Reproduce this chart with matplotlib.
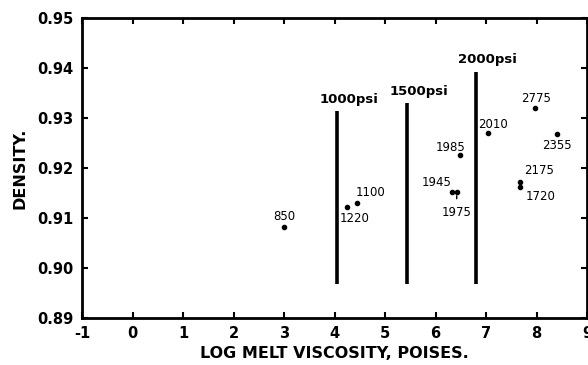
import matplotlib
matplotlib.use("Agg")
import matplotlib.pyplot as plt

plt.rcParams["axes.unicode_minus"] = False

# puntos: log viscosidad, densidad, etiqueta
visc = [3.0, 4.25, 4.45, 6.33, 6.42, 6.49, 7.04, 7.98, 8.40, 7.68, 7.68]
dens = [0.9082, 0.9122, 0.9130, 0.9153, 0.9153, 0.9226, 0.9270, 0.9320, 0.9268, 0.9173, 0.9163]
etiquetas = ["850", "1220", "1100", "1945", "1975", "1985", "2010", "2775", "2355", "2175", "1720"]

# lineas de presion
presion_x = [4.04, 5.43, 6.80]
presion_top = [0.9314, 0.9330, 0.9392]
presion_bottom = 0.8968
presion_txt = ["1000psi", "1500psi", "2000psi"]

# desplazamientos de las etiquetas (pixeles)
offsets = {
    "850": (0, 10), "1220": (7, -12), "1100": (13, 10), "1945": (-16, 9),
    "1975": (0, -21), "1985": (-10, 8), "2010": (5, 9), "2775": (1, 10),
    "2355": (0, -11), "2175": (19, 11), "1720": (20, -10),
}

fig = plt.figure(figsize=(5.88, 3.65), dpi=100)
ax = fig.add_axes([82 / 588, 47 / 365, 505 / 588, 300 / 365])

ax.scatter(visc, dens, s=9, color="black", zorder=3)
for x, y, t in zip(visc, dens, etiquetas):
    dx, dy = offsets[t]
    ax.annotate(t, (x, y), xytext=(dx, dy), textcoords="offset pixels",
                ha="center", va="center", fontsize=8.5)
# rayita del 1975
ax.annotate("", (6.42, 0.9150), xytext=(6.42, 0.9133),
            arrowprops=dict(arrowstyle="-", lw=1, color="black"))

for x, top, txt in zip(presion_x, presion_top, presion_txt):
    ax.vlines(x, presion_bottom, top, color="black", lw=2.6)
    ax.annotate(txt, (x, top), xytext=(12, 12), textcoords="offset pixels",
                ha="center", va="center", fontsize=9.5, fontweight="bold")

ax.set_xlim(-1, 9)
ax.set_ylim(0.89, 0.95)
ax.set_xticks(range(-1, 10))
ax.set_yticks([0.89, 0.90, 0.91, 0.92, 0.93, 0.94, 0.95])
ax.set_yticklabels(["0.89", "0.90", "0.91", "0.92", "0.93", "0.94", "0.95"])
ax.tick_params(direction="in", top=True, right=True, length=4, width=1.5,
               labelsize=10.5, pad=6)
for lab in ax.get_xticklabels() + ax.get_yticklabels():
    lab.set_fontweight("bold")
for sp in ax.spines.values():
    sp.set_linewidth(2)

ax.set_xlabel("LOG MELT VISCOSITY, POISES.", fontsize=11.5, fontweight="bold", labelpad=3)
ax.set_ylabel("DENSITY.", fontsize=11.5, fontweight="bold", labelpad=7)

fig.savefig("out.png", dpi=100)
